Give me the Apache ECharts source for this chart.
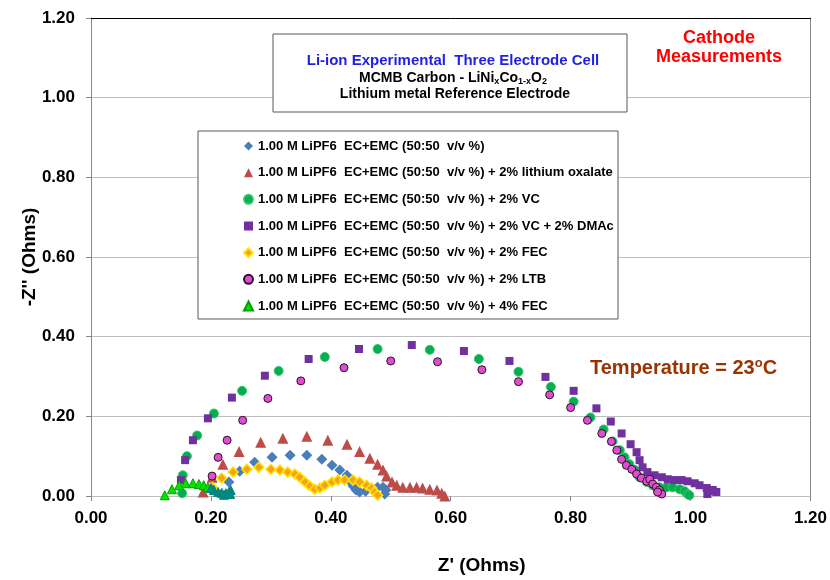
<!DOCTYPE html>
<html>
<head>
<meta charset="utf-8">
<script src="https://cdn.jsdelivr.net/npm/echarts@6.0.0/dist/echarts.min.js"></script>
<style>
  html, body { margin: 0; padding: 0; background: #ffffff; }
  #chart { width: 830px; height: 580px; }
</style>
</head>
<body>
<div id="chart"></div>
<script>
// Nyquist plots of cathode impedance, Li-ion three electrode cell, 23 °C
// Each point: [Z' (Ohms), -Z'' (Ohms)]

const xTicks = [0, 0.2, 0.4, 0.6, 0.8, 1.0, 1.2];

const baseline = [
  [0.230, 0.035], [0.248, 0.062], [0.273, 0.085], [0.302, 0.097], [0.332, 0.102],
  [0.360, 0.102], [0.385, 0.092], [0.402, 0.077], [0.415, 0.065], [0.427, 0.052],
  [0.432, 0.037], [0.437, 0.025], [0.442, 0.015], [0.448, 0.010], [0.458, 0.012],
  [0.468, 0.017], [0.478, 0.022], [0.487, 0.022], [0.492, 0.015], [0.490, 0.005]
];

const lithiumOxalate = [
  [0.187, 0.010], [0.202, 0.047], [0.220, 0.080], [0.247, 0.112], [0.283, 0.135],
  [0.320, 0.145], [0.360, 0.150], [0.395, 0.140], [0.427, 0.130], [0.448, 0.112],
  [0.465, 0.095], [0.478, 0.080], [0.487, 0.065], [0.493, 0.050], [0.502, 0.035],
  [0.510, 0.027], [0.520, 0.022], [0.532, 0.022], [0.543, 0.022], [0.553, 0.020],
  [0.565, 0.017], [0.577, 0.015], [0.585, 0.007], [0.590, 0.000]
];

const vc = [
  [0.152, 0.007], [0.153, 0.052], [0.160, 0.100], [0.177, 0.152], [0.205, 0.207],
  [0.252, 0.264], [0.313, 0.314], [0.390, 0.349], [0.478, 0.369], [0.565, 0.367],
  [0.647, 0.344], [0.713, 0.312], [0.767, 0.274], [0.805, 0.237], [0.833, 0.197],
  [0.855, 0.167], [0.870, 0.137], [0.882, 0.115], [0.890, 0.097], [0.898, 0.080],
  [0.907, 0.065], [0.915, 0.047], [0.927, 0.035], [0.937, 0.027], [0.948, 0.022],
  [0.960, 0.022], [0.970, 0.022], [0.982, 0.017], [0.990, 0.012], [0.995, 0.005],
  [0.998, 0.002]
];

const vcDmac = [
  [0.150, 0.040], [0.157, 0.090], [0.170, 0.140], [0.195, 0.195], [0.235, 0.247],
  [0.290, 0.302], [0.363, 0.344], [0.447, 0.369], [0.535, 0.379], [0.622, 0.364],
  [0.698, 0.339], [0.758, 0.299], [0.805, 0.264], [0.843, 0.220], [0.867, 0.187],
  [0.885, 0.157], [0.900, 0.130], [0.910, 0.110], [0.915, 0.090], [0.920, 0.072],
  [0.928, 0.060], [0.940, 0.052], [0.952, 0.047], [0.962, 0.042], [0.973, 0.040],
  [0.985, 0.040], [0.995, 0.037], [1.007, 0.032], [1.015, 0.027], [1.027, 0.020],
  [1.037, 0.015], [1.043, 0.010], [1.028, 0.005], [1.033, 0.012]
];

const fec2 = [
  [0.202, 0.022], [0.218, 0.045], [0.237, 0.060], [0.260, 0.067], [0.280, 0.072],
  [0.300, 0.067], [0.315, 0.065], [0.328, 0.060], [0.340, 0.055], [0.348, 0.047],
  [0.357, 0.035], [0.365, 0.025], [0.373, 0.017], [0.382, 0.020], [0.390, 0.027],
  [0.402, 0.035], [0.412, 0.040], [0.423, 0.040], [0.437, 0.040], [0.448, 0.035],
  [0.460, 0.027], [0.468, 0.020], [0.473, 0.010], [0.478, 0.002]
];

const ltb = [
  [0.202, 0.050], [0.212, 0.097], [0.227, 0.140], [0.253, 0.190], [0.295, 0.245],
  [0.350, 0.289], [0.422, 0.322], [0.500, 0.339], [0.578, 0.337], [0.652, 0.317],
  [0.713, 0.287], [0.765, 0.254], [0.800, 0.222], [0.828, 0.190], [0.852, 0.157],
  [0.868, 0.137], [0.877, 0.115], [0.885, 0.092], [0.893, 0.077], [0.902, 0.067],
  [0.910, 0.055], [0.918, 0.045], [0.927, 0.037], [0.932, 0.042], [0.937, 0.030],
  [0.943, 0.022], [0.948, 0.015], [0.952, 0.005], [0.945, 0.010]
];

const fec4 = [
  [0.123, 0.002], [0.135, 0.017], [0.147, 0.027], [0.158, 0.032], [0.170, 0.032],
  [0.180, 0.030], [0.188, 0.027], [0.195, 0.022]
];

// high-frequency tail of the 4% FEC cell
const fec4Tail = [
  [0.200, 0.020], [0.205, 0.015], [0.212, 0.010], [0.218, 0.008], [0.225, 0.007],
  [0.230, 0.010], [0.233, 0.015], [0.232, 0.005], [0.222, 0.003]
];

const base = '1.00 M LiPF6  EC+EMC (50:50  v/v %)';
const seriesNames = [
  base,
  base + ' + 2% lithium oxalate',
  base + ' + 2% VC',
  base + ' + 2% VC + 2% DMAc',
  base + ' + 2% FEC',
  base + ' + 2% LTB',
  base + ' + 4% FEC'
];

const FONT = 'Liberation Sans, Arial, sans-serif';
const chart = echarts.init(document.getElementById('chart'), null, { renderer: 'canvas' });

function sc(name, data, symbol, size, color, border, borderWidth) {
  return {
    type: 'scatter',
    name: name,
    data: data,
    symbol: symbol,
    symbolSize: size,
    itemStyle: { color: color, borderColor: border || color, borderWidth: borderWidth || 0, opacity: 1 },
    emphasis: { disabled: true },
    animation: false
  };
}

const fec4Data = fec4.map(p => p).concat(
  fec4Tail.map(p => ({ value: p, itemStyle: { color: '#00877F', borderColor: '#00877F' } }))
);

const option = {
  backgroundColor: '#ffffff',
  animation: false,
  textStyle: { fontFamily: FONT },
  grid: { left: 91, right: 19, top: 18, bottom: 81, containLabel: false },
  xAxis: [
    {
      type: 'value', min: 0, max: 1.2, interval: 0.2,
      name: "Z' (Ohms)", nameLocation: 'middle', nameGap: 60, nameMoveOverlap: false,
      nameTextStyle: { fontSize: 19, fontWeight: 'bold', color: '#000', fontFamily: FONT, padding: [0, 0, 0, 62] },
      axisLine: { show: true, onZero: false, lineStyle: { color: '#BFBFBF', width: 1 } },
      axisTick: { show: true, length: 5, lineStyle: { color: '#868686' } },
      axisLabel: { formatter: v => v.toFixed(2), fontSize: 17, fontWeight: 'bold', color: '#000', fontFamily: FONT, margin: 14 },
      splitLine: { show: false }
    },
    {
      type: 'value', position: 'top', min: 0, max: 1.2, interval: 0.2,
      axisLine: { show: true, onZero: false, lineStyle: { color: '#000', width: 1 } },
      axisTick: { show: false }, axisLabel: { show: false }, splitLine: { show: false }
    }
  ],
  yAxis: [
    {
      type: 'value', min: 0, max: 1.2, interval: 0.2,
      name: '-Z\'\' (Ohms)', nameLocation: 'middle', nameGap: 52, nameRotate: 90, nameMoveOverlap: false,
      nameTextStyle: { fontSize: 19, fontWeight: 'bold', color: '#000', fontFamily: FONT },
      axisLine: { show: true, onZero: false, lineStyle: { color: '#868686', width: 1 } },
      axisTick: { show: true, length: 5, lineStyle: { color: '#868686' } },
      axisLabel: { formatter: v => v.toFixed(2), fontSize: 17, fontWeight: 'bold', color: '#000', fontFamily: FONT, margin: 16 },
      splitLine: { show: true, lineStyle: { color: '#BFBFBF', width: 1 } }
    },
    {
      type: 'value', position: 'right', min: 0, max: 1.2, interval: 0.2,
      axisLine: { show: true, onZero: false, lineStyle: { color: '#868686', width: 1 } },
      axisTick: { show: false }, axisLabel: { show: false }, splitLine: { show: false }
    }
  ],
  legend: {
    data: seriesNames,
    orient: 'vertical',
    left: 243, top: 138,
    padding: 0,
    itemWidth: 9, itemHeight: 9,
    itemGap: 10.67,
    textStyle: { fontSize: 13, fontWeight: 'bold', color: '#000', fontFamily: FONT, lineHeight: 16 },
    selectedMode: false,
    z: 6
  },
  graphic: [
    { type: 'rect', z: 4, shape: { x: 273, y: 34, width: 354, height: 78 },
      style: { fill: '#ffffff', stroke: '#595959', lineWidth: 1 } },
    { type: 'rect', z: 4, shape: { x: 198, y: 131, width: 420, height: 188 },
      style: { fill: '#ffffff', stroke: '#595959', lineWidth: 1 } },
    { type: 'text', z: 7, x: 453, y: 61,
      style: { text: 'Li-ion Experimental  Three Electrode Cell', fill: '#1F1FE6',
        font: 'bold 15px ' + FONT, textAlign: 'center', textVerticalAlign: 'middle', align: 'center', verticalAlign: 'middle' } },
    { type: 'text', z: 7, x: 453, y: 78,
      style: {
        text: '{b|MCMB Carbon - LiNi}{s|x}{b|Co}{s|1-x}{b|O}{s|2}',
        textAlign: 'center', textVerticalAlign: 'middle', align: 'center', verticalAlign: 'middle',
        rich: {
          b: { fontSize: 14, fontWeight: 'bold', fontFamily: FONT, fill: '#000', color: '#000', lineHeight: 16, verticalAlign: 'middle' },
          s: { fontSize: 9, fontWeight: 'bold', fontFamily: FONT, fill: '#000', color: '#000', lineHeight: 16, verticalAlign: 'bottom', padding: [6, 0, 0, 0] }
        }
      } },
    { type: 'text', z: 7, x: 455, y: 94,
      style: { text: 'Lithium metal Reference Electrode', fill: '#000',
        font: 'bold 14px ' + FONT, textAlign: 'center', textVerticalAlign: 'middle', align: 'center', verticalAlign: 'middle' } },
    { type: 'text', z: 7, x: 719, y: 38,
      style: { text: 'Cathode', fill: '#FF0000',
        font: 'bold 18px ' + FONT, textAlign: 'center', textVerticalAlign: 'middle', align: 'center', verticalAlign: 'middle' } },
    { type: 'text', z: 7, x: 719, y: 57,
      style: { text: 'Measurements', fill: '#FF0000',
        font: 'bold 18px ' + FONT, textAlign: 'center', textVerticalAlign: 'middle', align: 'center', verticalAlign: 'middle' } },
    { type: 'text', z: 7, x: 590, y: 368,
      style: {
        text: '{t|Temperature = 23}{u|o}{t|C}',
        textAlign: 'left', textVerticalAlign: 'middle', align: 'left', verticalAlign: 'middle',
        rich: {
          t: { fontSize: 20, fontWeight: 'bold', fontFamily: FONT, fill: '#993300', color: '#993300', lineHeight: 22, verticalAlign: 'middle' },
          u: { fontSize: 13, fontWeight: 'bold', fontFamily: FONT, fill: '#993300', color: '#993300', lineHeight: 22, verticalAlign: 'top' }
        }
      } }
  ],
  series: [
    sc(seriesNames[0], baseline, 'diamond', 11, '#4A7EBB'),
    sc(seriesNames[1], lithiumOxalate, 'triangle', 11, '#BE4B48'),
    sc(seriesNames[2], vc, 'circle', 9, '#00B050', '#3CC46E', 1),
    sc(seriesNames[3], vcDmac, 'rect', 8, '#7030A0'),
    sc(seriesNames[4], fec2, 'diamond', 10, '#F7A21B', '#FFE600', 1.5),
    sc(seriesNames[5], ltb, 'circle', 8, '#DE4FCF', '#2E0F2B', 1),
    sc(seriesNames[6], fec4Data, 'triangle', 9, '#00E600', '#00A000', 1)
  ]
};

chart.setOption(option);
</script>
</body>
</html>
